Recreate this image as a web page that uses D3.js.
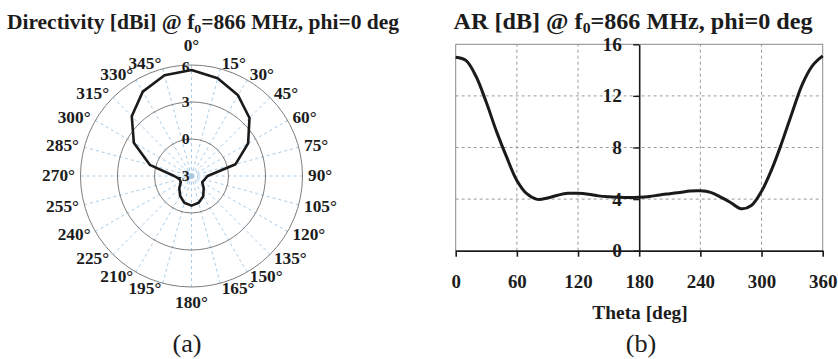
<!DOCTYPE html>
<html>
<head>
<meta charset="utf-8">
<script src="https://cdn.jsdelivr.net/npm/d3@7"></script>
<style>
  body { margin: 0; background: #fff; }
  svg { display: block; font-family: "Liberation Serif", "Times New Roman", serif; }
  text { fill: #1c1c1c; }
</style>
</head>
<body>
<svg id="chart" width="838" height="359"></svg>
<script>
// (a) directivity pattern, one value every 15 deg
const dirAngles = [0, 15, 30, 45, 60, 75, 90, 105, 120, 135, 150, 165,
  180, 195, 210, 225, 240, 255, 270, 285, 300, 315, 330, 345]
const dirValues = [5.6, 5.2, 4.55, 3.65, 2.3, 0.7, -1.7, -1.9, -2.0, -1.6, -1.1, -0.75,
  -0.6, -0.75, -1.15, -1.6, -2.0, -2.0, -1.6, 0.5, 2.4, 3.85, 4.9, 5.45]
const dirRings = [-3, 0, 3, 6]

// (b) axial ratio vs theta
const arTheta = [0, 10, 20, 30, 40, 50, 60, 70, 80, 90, 100, 110, 120, 130, 140, 150, 160, 170,
  180, 190, 200, 210, 220, 230, 240, 250, 260, 270, 280, 290, 300, 310, 320, 330, 340, 350, 360]
const arValues = [15.0, 14.75, 13.5, 11.5, 9.25, 7.25, 5.45, 4.4, 3.98, 4.08, 4.3, 4.45, 4.45, 4.38, 4.25, 4.18, 4.14, 4.12,
  4.14, 4.2, 4.32, 4.42, 4.52, 4.62, 4.64, 4.52, 4.15, 3.72, 3.25, 3.5, 4.6, 6.3, 8.4, 10.7, 12.9, 14.35, 15.1]
const arXTicks = [0, 60, 120, 180, 240, 300, 360]
const arYTicks = [0, 4, 8, 12, 16]
const arXGrid = [60, 120, 240, 300]
const arYGrid = [4, 8, 12]

const SX = 1.05 // the scan is a bit wider than the font
const svg = d3.select('#chart')

function label(g, x, y, s, size, anchor, weight){
  return g.append('text')
    .attr('transform', `translate(${x},${y}) scale(${SX},1)`)
    .attr('text-anchor', anchor)
    .attr('dominant-baseline', 'central')
    .style('font-size', size + 'px')
    .style('font-weight', weight || 'bold')
    .text(s)
}

function title(x, y, size, before){
  let t = svg.append('text')
    .attr('transform', `translate(${x},${y}) scale(${SX},1)`)
    .attr('text-anchor', 'middle')
    .style('font-size', size + 'px')
    .style('font-weight', 'bold')
  t.append('tspan').text(before + ' f')
  t.append('tspan').attr('dy', 4).style('font-size', (size * 0.65) + 'px').text('0')
  t.append('tspan').attr('dy', -4).text('=866 MHz, phi=0 deg')
}

// ---------- (a) polar ----------
const cx = 191.5, cy = 176, R = 111
const r = d3.scaleLinear().domain([-3, 6]).range([0, R])
const rad = a => a * Math.PI / 180

title(203, 29, 20.5, 'Directivity [dBi] @')

let polar = svg.append('g').attr('transform', `translate(${cx},${cy})`)

polar.selectAll('line.spoke')
  .data(dirAngles)
  .join('line')
  .attr('class', 'spoke')
  .attr('x1', 0).attr('y1', 0)
  .attr('x2', d => R * Math.sin(rad(d)))
  .attr('y2', d => -R * Math.cos(rad(d)))
  .attr('stroke', '#a9cde8')
  .attr('stroke-width', 1)
  .attr('stroke-dasharray', '3,3')

polar.append('circle').attr('r', 2.5).attr('fill', '#a9c8e0')
polar.append('circle').attr('r', 6).attr('fill', 'none')
  .attr('stroke', '#bcd6ec').attr('stroke-dasharray', '2,2')

polar.selectAll('circle.ring')
  .data(dirRings.filter(v => v > -3))
  .join('circle')
  .attr('class', 'ring')
  .attr('r', d => r(d))
  .attr('fill', 'none')
  .attr('stroke', '#7d7d7d')
  .attr('stroke-width', 1)

let radial = d3.lineRadial()
  .angle((d, i) => rad(dirAngles[i]))
  .radius(d => r(d))
  .curve(d3.curveLinearClosed)

polar.append('path')
  .attr('d', radial(dirValues))
  .attr('fill', 'none')
  .attr('stroke', '#1a1a1a')
  .attr('stroke-width', 2.6)
  .attr('stroke-linejoin', 'round')

dirRings.forEach(v => label(polar, -2, -r(v) + (v === 6 ? 1.5 : 0), v, 15, 'end'))

dirAngles.forEach(a => {
  let top = a === 0 || a === 180
  let rr = a === 0 ? R + 19 : (a === 180 ? R + 16 : R + 5.5)
  let x = rr * Math.sin(rad(a)), y = -rr * Math.cos(rad(a))
  let anchor = top ? 'middle' : (a < 180 ? 'start' : 'end')
  label(polar, x, y, a + '°', 16.5, anchor)
})

label(svg, 187, 344, '(a)', 25, 'middle', 'normal')

// ---------- (b) AR ----------
const x = d3.scaleLinear().domain([0, 360]).range([455.7, 822.7])
const y = d3.scaleLinear().domain([0, 16]).range([250.7, 44.3])

title(633, 28.5, 23, 'AR [dB] @')

let plot = svg.append('g')

plot.selectAll('line.hgrid')
  .data(arYGrid)
  .join('line')
  .attr('class', 'hgrid')
  .attr('x1', x(0)).attr('x2', x(360))
  .attr('y1', d => y(d)).attr('y2', d => y(d))
  .attr('stroke', '#9a9a9a').attr('stroke-dasharray', '3,3')

plot.selectAll('line.vgrid')
  .data(arXGrid)
  .join('line')
  .attr('class', 'vgrid')
  .attr('x1', d => x(d)).attr('x2', d => x(d))
  .attr('y1', y(0)).attr('y2', y(16))
  .attr('stroke', '#9a9a9a').attr('stroke-dasharray', '3,3')

plot.append('rect')
  .attr('x', x(0)).attr('y', y(16))
  .attr('width', x(360) - x(0)).attr('height', y(0) - y(16))
  .attr('fill', 'none').attr('stroke', '#8a8a8a')

let line = d3.line()
  .x((d, i) => x(arTheta[i]))
  .y(d => y(d))
  .curve(d3.curveCatmullRom)

plot.append('path')
  .attr('d', line(arValues))
  .attr('fill', 'none')
  .attr('stroke', '#1a1a1a')
  .attr('stroke-width', 3)

let xAxis = plot.append('g')
  .attr('transform', `translate(0,${y(0)})`)
  .call(d3.axisBottom(x).tickValues(arXTicks).tickSize(6).tickPadding(18.5).tickSizeOuter(0))
xAxis.select('.domain').attr('stroke', '#1a1a1a').attr('stroke-width', 1.6)
xAxis.selectAll('.tick line').attr('stroke', '#1a1a1a').attr('stroke-width', 1.6)
xAxis.selectAll('text')
  .attr('transform', `scale(${SX},1)`)
  .style('font-size', '18px').style('font-weight', 'bold')
  .style('font-family', '"Liberation Serif", serif').attr('fill', '#1c1c1c')

let yAxis = plot.append('g')
  .attr('transform', `translate(${x(180)},0)`)
  .call(d3.axisLeft(y).tickValues(arYTicks).tickSize(6).tickPadding(10.5).tickSizeOuter(0))
yAxis.select('.domain').attr('stroke', '#1a1a1a').attr('stroke-width', 1.6)
yAxis.selectAll('.tick line').attr('stroke', '#1a1a1a').attr('stroke-width', 1.4)
yAxis.selectAll('text')
  .attr('transform', `scale(${SX},1)`)
  .style('font-size', '18.5px').style('font-weight', 'bold')
  .style('font-family', '"Liberation Serif", serif').attr('fill', '#1c1c1c')

label(svg, 640, 313, 'Theta [deg]', 18.5, 'middle')
label(svg, 641, 344, '(b)', 25, 'middle', 'normal')
</script>
</body>
</html>
